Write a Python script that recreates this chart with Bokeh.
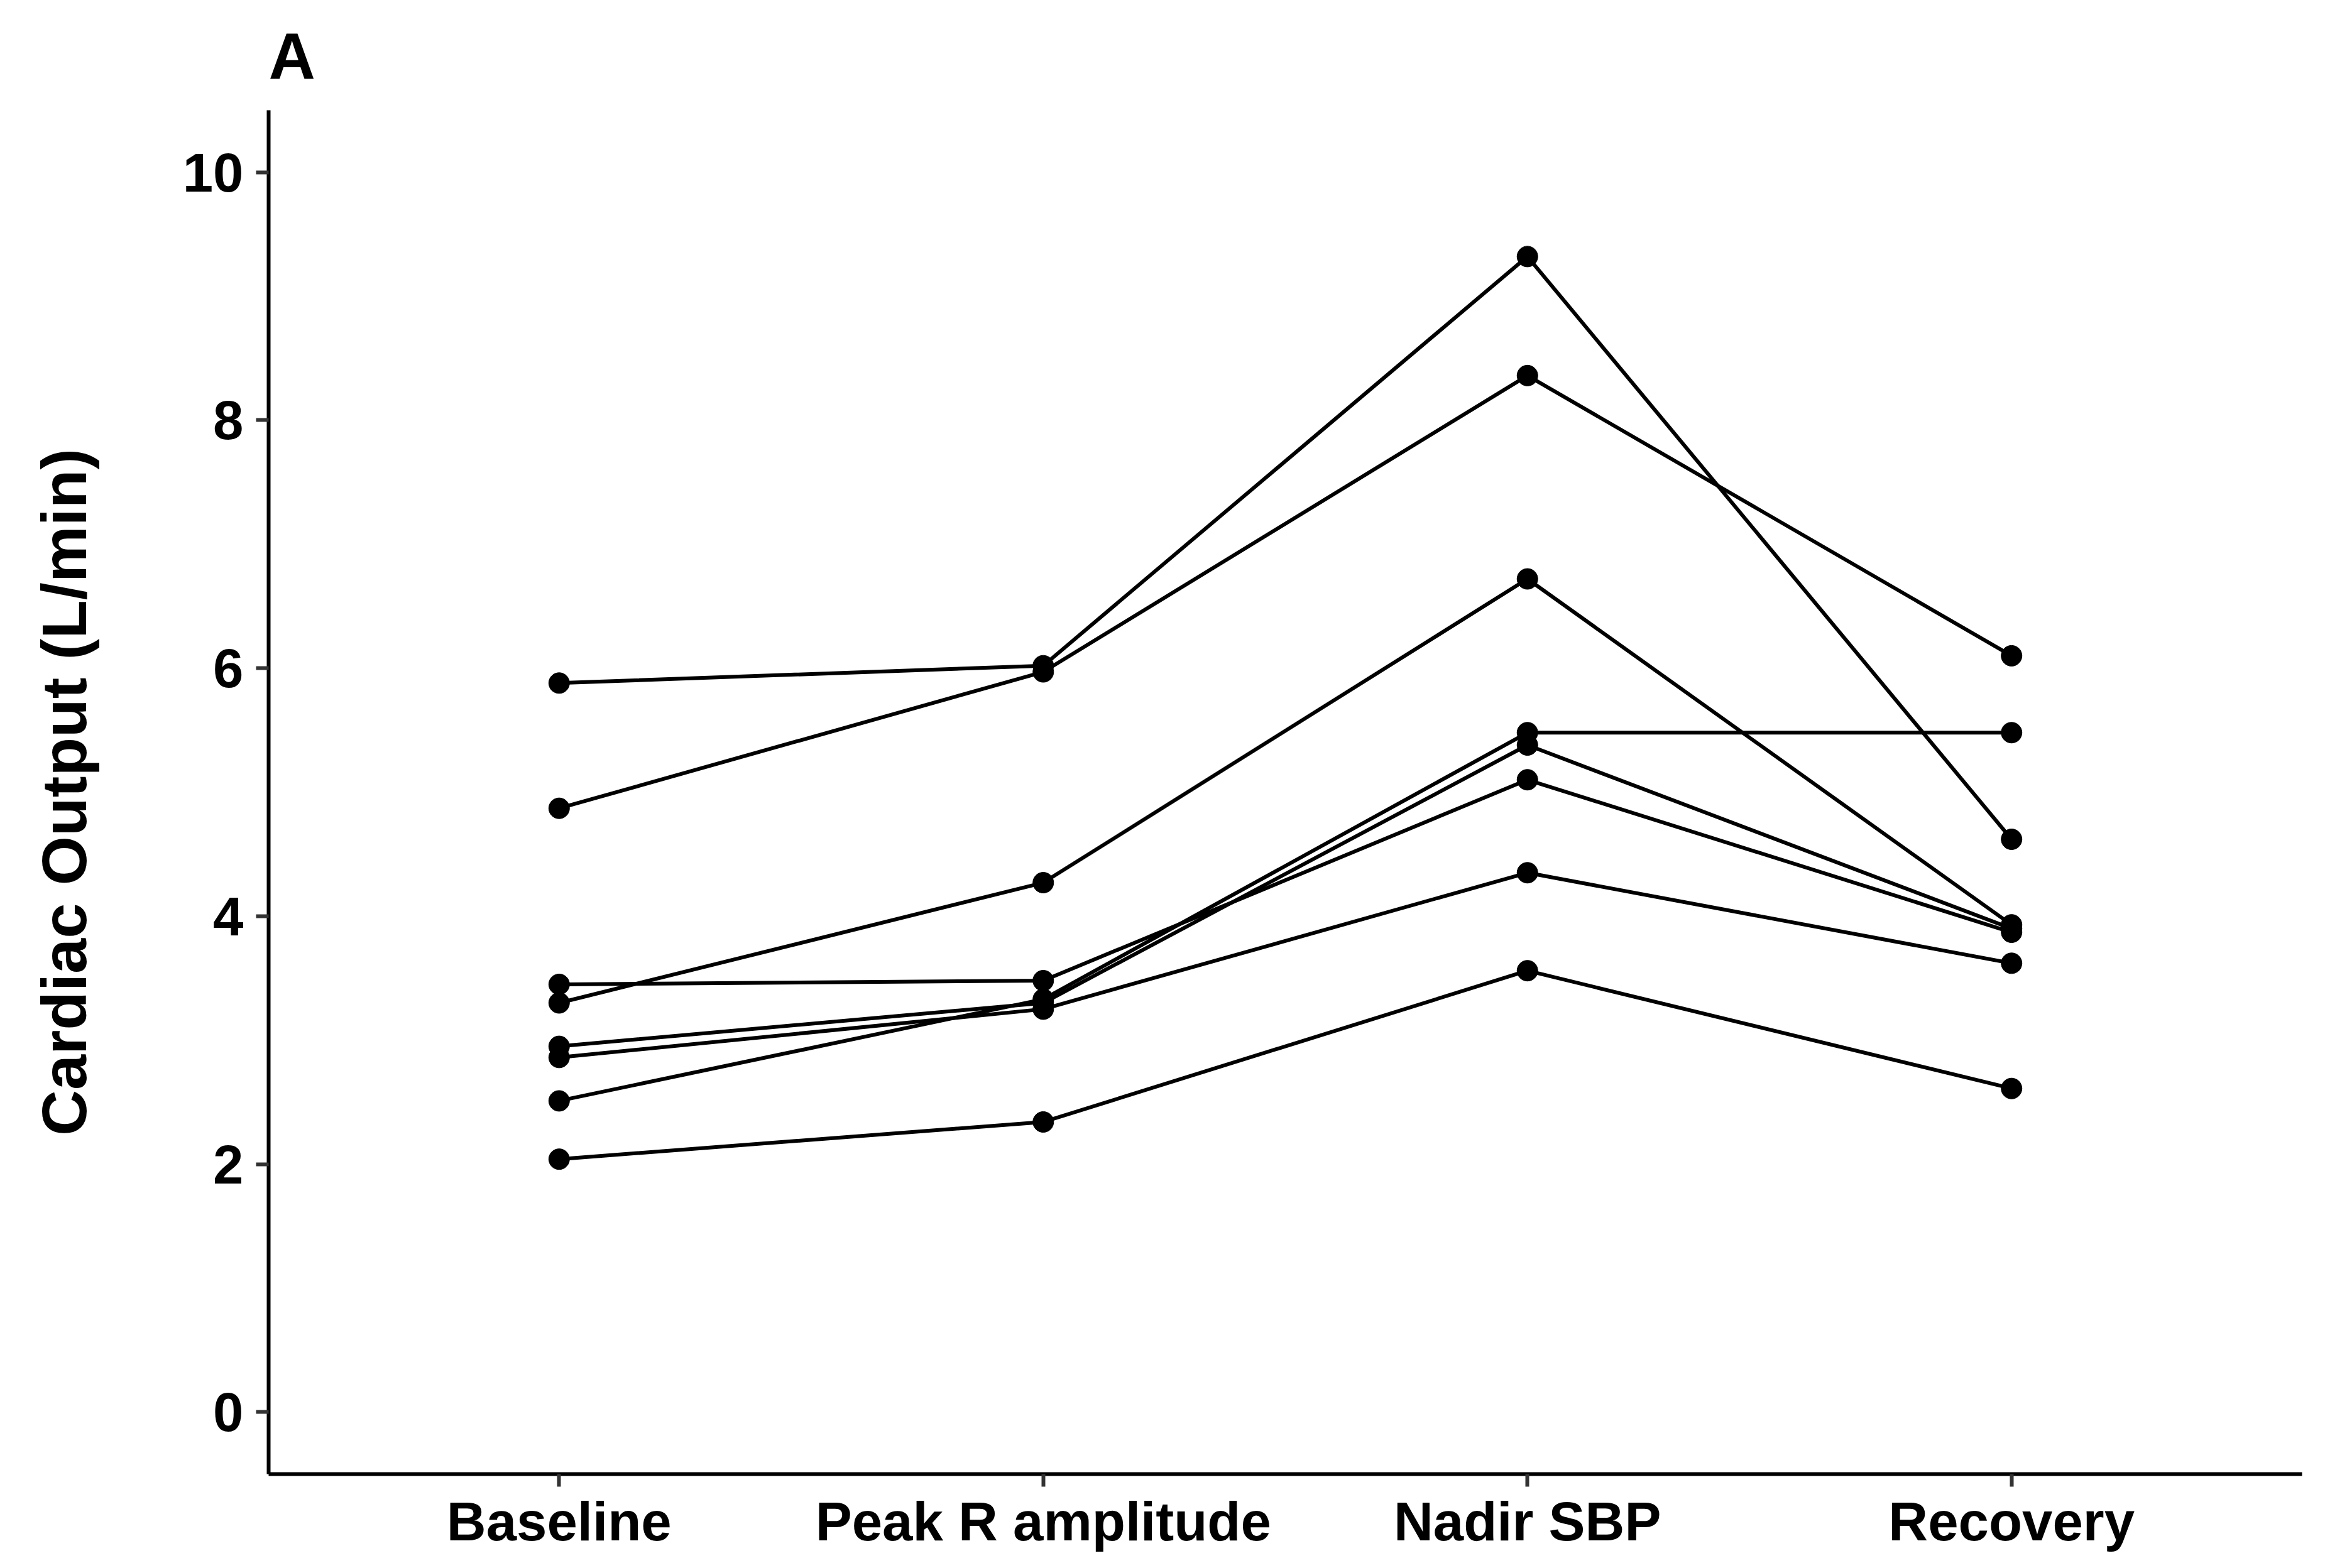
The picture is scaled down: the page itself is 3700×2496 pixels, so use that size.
from bokeh.plotting import figure
from bokeh.models import Range1d, FixedTicker
from bokeh.embed import file_html
from bokeh.resources import INLINE

# ---- data ----
phases = ["Baseline", "Peak R amplitude", "Nadir SBP", "Recovery"]
y_ticks = [0, 2, 4, 6, 8, 10]
panel_tag = "A"

s1 = [5.88, 6.02, 9.32, 4.62]
s2 = [4.87, 5.97, 8.36, 6.10]
s3 = [3.30, 4.27, 6.72, 3.93]
s4 = [3.45, 3.48, 5.10, 3.87]
s5 = [2.51, 3.33, 5.48, 5.48]
s6 = [2.95, 3.30, 5.38, 3.90]
s7 = [2.86, 3.25, 4.35, 3.62]
s8 = [2.04, 2.34, 3.56, 2.61]
subjects = [s1, s2, s3, s4, s5, s6, s7, s8]

x_pos = list(range(1, len(phases) + 1))

FONT = "Liberation Sans"

p = figure(
    width=3684, height=2480,
    x_range=Range1d(0.4, 4.6), y_range=Range1d(-0.5, 10.5),
    output_backend="svg", toolbar_location=None,
    min_border_left=427, min_border_right=21,
    min_border_top=173, min_border_bottom=134,
    title=panel_tag,
)
p.background_fill_color = "white"
p.border_fill_color = "white"
p.outline_line_color = None
p.grid.grid_line_color = None

p.title.text_font = FONT
p.title.text_font_style = "bold"
p.title.text_font_size = "103px"
p.title.text_color = "black"
p.title.align = "left"
p.title.offset = 0
p.title.standoff = 58

for ax in (p.xaxis[0], p.yaxis[0]):
    ax.axis_line_color = "black"
    ax.axis_line_width = 6
    ax.major_tick_line_color = "#333333"
    ax.major_tick_line_width = 6
    ax.major_tick_out = 20
    ax.major_tick_in = 0
    ax.minor_tick_line_color = None
    ax.major_label_text_font = FONT
    ax.major_label_text_font_style = "bold"
    ax.major_label_text_font_size = "87px"
    ax.major_label_text_color = "black"

p.xaxis.ticker = FixedTicker(ticks=x_pos)
p.xaxis.major_label_overrides = {x: name for x, name in zip(x_pos, phases)}
p.xaxis.major_label_standoff = 6

p.yaxis.ticker = FixedTicker(ticks=y_ticks)
p.yaxis.major_label_standoff = 20
p.yaxis.axis_label = "Cardiac Output (L/min)"
p.yaxis.axis_label_text_font = FONT
p.yaxis.axis_label_text_font_style = "bold"
p.yaxis.axis_label_text_font_size = "101px"
p.yaxis.axis_label_text_color = "black"
p.yaxis.axis_label_standoff = 130

for s in subjects:
    p.line(x_pos, s, line_color="black", line_width=6)
for s in subjects:
    p.scatter(x_pos, s, size=33, fill_color="black", line_color="black")

open("out.html", "w").write(file_html(p, INLINE))
